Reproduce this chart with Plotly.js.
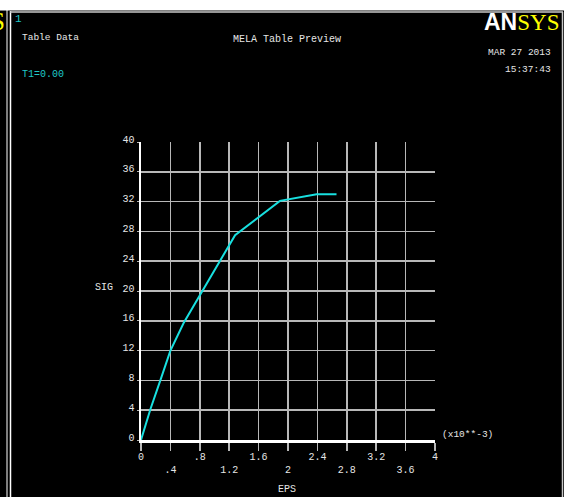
<!DOCTYPE html>
<html>
<head>
<meta charset="utf-8">
<script src="https://cdn.plot.ly/plotly-3.0.1.min.js"></script>
<style>
html,body{margin:0;padding:0;background:#000;}
#chart{width:564px;height:497px;}
</style>
</head>
<body>
<div id="chart"></div>
<script>
// Data (EPS in units of 1e-3, SIG)
const eps = [0, 0.13, 0.27, 0.40, 0.58, 1.28, 1.89, 2.39, 2.66];
const sig = [0, 4.2, 8.2, 12.0, 15.7, 27.5, 32.1, 33.0, 33.0];

const xTickVals = [0, 0.4, 0.8, 1.2, 1.6, 2, 2.4, 2.8, 3.2, 3.6, 4];
const xTickText = ['0', '<br>.4', '.8', '<br>1.2', '1.6', '<br>2', '2.4', '<br>2.8', '3.2', '<br>3.6', '4'];
const yTickVals = [0, 4, 8, 12, 16, 20, 24, 28, 32, 36, 40];
const yTickText = ['0', '4', '8', '12', '16', '20', '24', '28', '32', '36', '40'];

const W = 564, H = 497;
const L = 141, R = 435, T = 142, B = 440;
const px = X => (X - L) / (R - L);
const py = Y => (B - Y) / (B - T);

const mono = 'Liberation Mono, DejaVu Sans Mono, monospace';
const white = '#e6e6e6';
const cyan = '#1fc8c8';
const grid = '#b8b8b8';

const trace = {
  x: eps, y: sig, type: 'scatter', mode: 'lines',
  line: {color: '#18e0e0', width: 2},
  hoverinfo: 'skip'
};

function ann(text, X, Y, opts) {
  return Object.assign({
    text: text, xref: 'paper', yref: 'paper', x: px(X), y: py(Y),
    showarrow: false, xanchor: 'left', yanchor: 'middle',
    font: {family: mono, size: 10, color: white}
  }, opts || {});
}

const annotations = [
  ann('1', 13, 19, {font: {family: mono, size: 11, color: cyan}}),
  ann('Table Data', 20, 37, {font: {family: mono, size: 9.5, color: white}}),
  ann('T1=0.00', 20, 74, {font: {family: mono, size: 10, color: cyan}}),
  ann('MELA Table Preview', 287, 40, {xanchor: 'center'}),
  ann('MAR 27 2013', 553, 53, {xanchor: 'right', font: {family: mono, size: 9.5, color: white}}),
  ann('15:37:43', 553, 69, {xanchor: 'right', font: {family: mono, size: 9.5, color: white}}),
  ann('SIG', 104, 287, {xanchor: 'center'}),
  ann('EPS', 287, 489, {xanchor: 'center'}),
  ann('(x10**-3)', 440, 434, {font: {family: mono, size: 9.5, color: white}}),
  ann('<span style="font-family:Liberation Sans Narrow, Liberation Sans, sans-serif;font-weight:bold">AN</span><span style="color:#ffff00">SYS</span>', 561, 22,
      {xanchor: 'right', font: {family: 'Liberation Serif, serif', size: 23, color: '#ffffff'}}),
  ann('S', 7, 21, {xanchor: 'right', font: {family: 'Liberation Serif, serif', size: 25, color: '#ffff00'}})
];

const shapes = [
  {type: 'rect', xref: 'paper', yref: 'paper', x0: px(-5), x1: px(570), y0: py(0), y1: py(10.5),
   fillcolor: '#ffffff', line: {width: 0}, layer: 'above'},
  {type: 'line', xref: 'paper', yref: 'paper', x0: px(7), x1: px(7), y0: py(10), y1: py(497),
   line: {color: '#ffffff', width: 1}},
  {type: 'line', xref: 'paper', yref: 'paper', x0: px(10.5), x1: px(10.5), y0: py(11), y1: py(497),
   line: {color: '#ffffff', width: 1.5}},
  {type: 'line', xref: 'paper', yref: 'paper', x0: px(10), x1: px(563), y0: py(12), y1: py(12),
   line: {color: '#c8c8c8', width: 1.5}},
  {type: 'line', xref: 'paper', yref: 'paper', x0: px(562.5), x1: px(562.5), y0: py(12), y1: py(497),
   line: {color: '#c8c8c8', width: 1.5}}
];

const layout = {
  width: W, height: H,
  margin: {l: L, r: W - R, t: T, b: H - B, pad: 0},
  paper_bgcolor: '#000', plot_bgcolor: '#000',
  showlegend: false,
  xaxis: {
    range: [0, 4], tickvals: xTickVals, ticktext: xTickText,
    showgrid: true, gridcolor: grid, gridwidth: 1.5,
    showline: true, linecolor: '#ffffff', linewidth: 2.5,
    ticks: 'outside', ticklen: 8, tickcolor: grid, tickwidth: 1.5,
    ticklabelstandoff: -3,
    tickfont: {family: mono, size: 10, color: white},
    zeroline: false, fixedrange: true
  },
  yaxis: {
    range: [0, 40], tickvals: yTickVals, ticktext: yTickText,
    showgrid: true, gridcolor: grid, gridwidth: 1.5,
    showline: true, linecolor: '#ffffff', linewidth: 2.5,
    ticks: 'outside', ticklen: 2, tickcolor: grid, tickwidth: 1,
    ticklabelshift: -3, ticklabelstandoff: 0,
    tickfont: {family: mono, size: 10, color: white},
    zeroline: false, fixedrange: true
  },
  annotations: annotations,
  shapes: shapes
};

Plotly.newPlot('chart', [trace], layout, {displayModeBar: false, staticPlot: true});
</script>
</body>
</html>
